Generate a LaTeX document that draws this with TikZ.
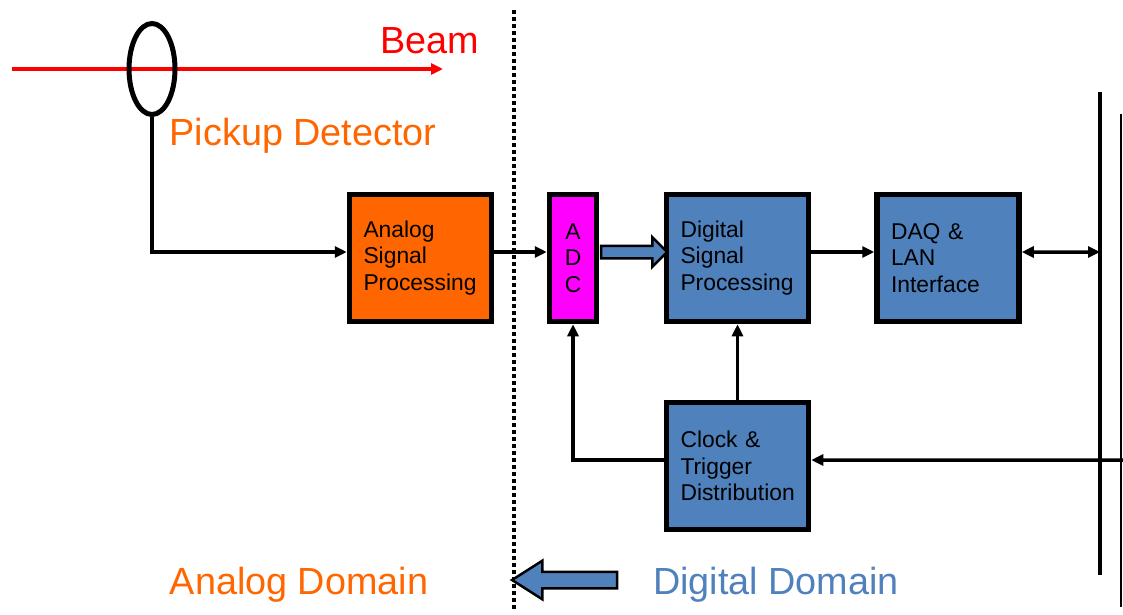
\documentclass[tikz,border=0pt]{standalone}
\usepackage{fontspec}
\setmainfont{Liberation Sans}
\usetikzlibrary{arrows.meta,shapes.geometric,shapes.arrows}
\definecolor{anaorange}{HTML}{FF6600}
\definecolor{adcmagenta}{HTML}{FF00FF}
\definecolor{digblue}{HTML}{4F81BD}
\definecolor{beamred}{HTML}{FF0000}

\begin{document}
\begin{tikzpicture}[x=0.2mm, y=-0.2mm, >={Triangle[length=2.4mm,width=2.2mm]},
  block/.style={draw, line width=1.1mm, minimum width=2.84cm, minimum height=2.54cm, text width=2.28cm, align=left, inner sep=0pt, font=\fontsize{13}{15.2}\selectfont},
  wire/.style={line width=0.7mm},
  title/.style={anchor=base, inner sep=0pt, font=\fontsize{21.5}{24}\selectfont},
  fat/.style={single arrow, draw, line width=0.5mm, fill=digblue}]
\useasboundingbox (0,0) rectangle (1123,614);

\coordinate (beamL) at (12,69);
\coordinate (beamR) at (443,69);
\draw[wire, beamred, ->] (beamL) -- (beamR);
\node[draw, ellipse, line width=1mm, minimum width=0.92cm, minimum height=1.82cm, inner sep=0pt] (pickup) at (152,69) {};

\node[title, beamred] (beamlbl) at (430,53) {Beam};
\node[title, anaorange] (pickuplbl) at (303,145) {Pickup Detector};
\node[title, anaorange] (analbl) at (299,594) {Analog Domain};
\node[title, digblue] (diglbl) at (776,594) {Digital Domain};

\coordinate (divtop) at (514,10);
\coordinate (divbot) at (514,610);
\draw[line width=0.7mm, dash pattern=on 0.7mm off 0.7mm] (divtop) -- (divbot);

\node[block, fill=anaorange] (asp) at (420.5,258) {Analog\\Signal\\Processing};
\node[block, fill=adcmagenta, minimum width=0.94cm, text width=0.6cm, align=center] (adc) at (573,258) {A\\D\\C};
\node[block, fill=digblue] (dsp) at (737.5,258) {Digital\\Signal\\Processing};
\node[block, fill=digblue] (daq) at (948,258) {DAQ \&\\LAN\\Interface};
\node[block, fill=digblue] (clk) at (737.5,466) {Clock \&\\Trigger\\Distribution};

\node[fat, minimum height=1.32cm, inner sep=1mm, single arrow head extend=1.7mm] (adcout) at (631,252) {};
\node[fat, minimum height=2.1cm, inner sep=1.4mm, single arrow head extend=2.2mm, shape border rotate=180, single arrow tip angle=65] (domarrow) at (571,580) {};

\coordinate (busT) at (1100,92);
\coordinate (busB) at (1100,575);
\coordinate (bus2T) at (1121,114);
\coordinate (bus2B) at (1121,607);
\coordinate (lanport) at (1100,252);
\coordinate (trigin) at (1123,460);
\draw[line width=0.9mm] (busT) -- (busB);
\draw[line width=0.4mm] (bus2T) -- (bus2B);

\draw[wire, ->] (pickup.south) |- ([yshift=1.2mm]asp.west);
\draw[wire, ->] ([yshift=1.2mm]asp.east) -- ([yshift=1.2mm]adc.west);
\draw[wire, ->] ([yshift=1.2mm]dsp.east) -- ([yshift=1.2mm]daq.west);
\draw[wire, <->] ([yshift=1.2mm]daq.east) -- (lanport);
\draw[wire, ->] (trigin) -- ([yshift=1.2mm]clk.east);
\draw[wire, ->] (clk.north) -- (dsp.south);
\draw[wire, ->] ([yshift=1.2mm]clk.west) -| (adc.south);
\end{tikzpicture}
\end{document}
